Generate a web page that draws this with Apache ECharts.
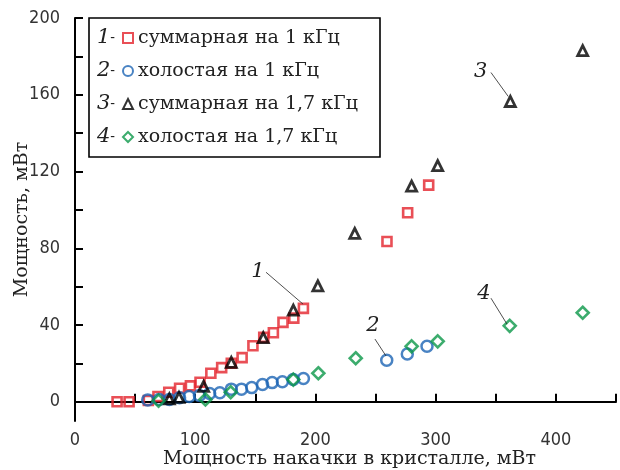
<!DOCTYPE html>
<html>
<head>
<meta charset="utf-8">
<script src="https://cdn.jsdelivr.net/npm/echarts@6/dist/echarts.min.js"></script>
<style>
    html, body {margin: 0; padding: 0; background: #fff;}
    #echartdiv {width: 620px; height: 470px;}
</style>
</head>
<body>
<div id="echartdiv"></div>
<script>
// 1 - суммарная на 1 кГц
var sum1X = [35, 45, 61, 69, 78, 87, 96, 104, 113, 122, 130, 139, 148, 157, 165, 173, 182, 190, 259.5, 276.7, 294.2];
var sum1Y = [0, 0, 0.7, 2.8, 5, 7.1, 8.3, 10.2, 14.9, 17.8, 20.1, 23, 29.2, 33.6, 36, 41.4, 43.6, 48.7, 83.5, 98.5, 112.9];
// 2 - холостая на 1 кГц
var idle1X = [60.5, 70, 78.5, 87, 95, 103.5, 112, 120.5, 130, 138.5, 147, 156, 164, 172.5, 181.5, 190, 259.3, 276.4, 292.8];
var idle1Y = [1, 1.2, 1.2, 2.1, 2.8, 3.3, 4.3, 4.7, 6.6, 6.6, 7.4, 9, 10, 10.5, 11.6, 12.1, 21.7, 24.9, 28.9];
// 3 - суммарная на 1,7 кГц
var sum17X = [78.5, 86.5, 107, 130, 156.6, 181.6, 202, 232.7, 280, 301.7, 362.1, 422.3];
var sum17Y = [1.5, 2.3, 8, 20.6, 33.4, 47.8, 60.4, 87.8, 112.4, 123.1, 156.5, 183];
// 4 - холостая на 1,7 кГц
var idle17X = [69.5, 108.5, 129.5, 181.6, 202.4, 233.5, 280, 301.7, 361.6, 422.3];
var idle17Y = [0.6, 1.2, 5, 11.6, 14.9, 22.7, 28.9, 31.5, 39.6, 46.4];

var seriesNames = ['суммарная на 1 кГц', 'холостая на 1 кГц', 'суммарная на 1,7 кГц', 'холостая на 1,7 кГц'];
var seriesNums = ['1', '2', '3', '4'];

var xTicks = [0, 50, 100, 150, 200, 250, 300, 350, 400, 450];
var xLabels = [0, 100, 200, 300, 400];
var yTicks = [0, 20, 40, 60, 80, 100, 120, 140, 160, 180, 200];
var yLabels = [0, 40, 80, 120, 160, 200];

// подписи кривых: номер, позиция номера, начало и конец выноски (в единицах осей)
var noteText = ['1', '2', '3', '4'];
var notePos = [[152.2, 68], [247.9, 39.5], [337.5, 172], [340.2, 56.6]];
var noteFrom = [[158.9, 67.5], [249.5, 32.7], [346, 171.6], [346, 54]];
var noteTo = [[189.7, 50.9], [258.7, 23.9], [360.4, 159.1], [359.3, 40.5]];

var serifFont = '"DejaVu Serif", "Liberation Serif", serif';
var narrowFont = '"Liberation Sans Narrow", "DejaVu Sans Condensed", sans-serif';

function pairs(xs, ys) {
    var out = [];
    for (var i = 0; i < xs.length; i++) {
        out.push([xs[i], ys[i]]);
    }
    return out;
}

function mkSeries(name, xs, ys, symbol, size, color, bw) {
    return {
        name: name,
        type: 'scatter',
        data: pairs(xs, ys),
        symbol: symbol,
        symbolSize: size,
        itemStyle: {color: 'rgba(255,255,255,0)', borderColor: color, borderWidth: bw},
        emphasis: {disabled: true},
        z: 3
    };
}

var dom = document.getElementById("echartdiv");
var myChart = echarts.init(dom, null, {renderer: 'canvas'});

var option = {
    backgroundColor: '#fff',
    animation: false,
    grid: {left: 75, right: 4, top: 18, bottom: 49, outerBoundsMode: 'none', containLabel: false},
    legend: {
        orient: 'vertical',
        left: 122,
        top: 28,
        padding: 0,
        itemWidth: 10,
        itemHeight: 10,
        itemGap: 13,
        selectedMode: false,
        textStyle: {fontFamily: serifFont, fontSize: 19, color: '#222', lineHeight: 20},
        data: seriesNames
    },
    xAxis: {
        type: 'value',
        min: 0,
        max: 450,
        name: 'Мощность накачки в кристалле, мВт',
        nameLocation: 'middle',
        nameGap: 29,
        nameMoveOverlap: false,
        nameTextStyle: {fontFamily: serifFont, fontSize: 19, color: '#222', padding: [0, 0, 0, 8]},
        axisLine: {lineStyle: {color: '#000', width: 2}},
        axisTick: {inside: true, length: 8, lineStyle: {color: '#000', width: 2}, customValues: xTicks},
        axisLabel: {fontFamily: narrowFont, fontSize: 18, color: '#333', margin: 10, customValues: xLabels},
        splitLine: {show: false}
    },
    yAxis: {
        type: 'value',
        min: -10,
        max: 200,
        name: 'Мощность, мВт',
        nameLocation: 'middle',
        nameGap: 43,
        nameMoveOverlap: false,
        nameTextStyle: {fontFamily: serifFont, fontSize: 19, color: '#222'},
        axisLine: {onZero: false, lineStyle: {color: '#000', width: 2}},
        axisTick: {inside: true, length: 8, lineStyle: {color: '#000', width: 2}, customValues: yTicks},
        axisLabel: {fontFamily: narrowFont, fontSize: 18, color: '#333', margin: 15, customValues: yLabels},
        splitLine: {show: false}
    },
    series: [
        mkSeries(seriesNames[0], sum1X, sum1Y, 'rect', 9, '#e3232c', 2.6),
        mkSeries(seriesNames[1], idle1X, idle1Y, 'circle', 11, '#1c64b4', 2.5),
        mkSeries(seriesNames[2], sum17X, sum17Y, 'triangle', 10, '#000', 2.8),
        mkSeries(seriesNames[3], idle17X, idle17Y, 'diamond', 12, '#0b9748', 2.6)
    ]
};
myChart.setOption(option);

// рамка легенды, номера кривых и выноски
var gr = [];
gr.push({
    type: 'rect',
    shape: {x: 89, y: 18, width: 291, height: 139},
    style: {fill: '#fff', stroke: '#000', lineWidth: 1.6},
    z: 1
});
for (var i = 0; i < seriesNums.length; i++) {
    gr.push({
        type: 'text',
        x: 97,
        y: 38 + i * 33,
        style: {
            text: '{n|' + seriesNums[i] + '}{d|-}',
            verticalAlign: 'middle',
            rich: {
                n: {fontFamily: serifFont, fontStyle: 'italic', fontSize: 21, fill: '#222'},
                d: {fontFamily: serifFont, fontSize: 14, fill: '#222'}
            }
        },
        z: 5
    });
}
for (var k = 0; k < noteText.length; k++) {
    var p = myChart.convertToPixel({gridIndex: 0}, notePos[k]);
    var a = myChart.convertToPixel({gridIndex: 0}, noteFrom[k]);
    var b = myChart.convertToPixel({gridIndex: 0}, noteTo[k]);
    gr.push({
        type: 'text',
        x: p[0],
        y: p[1],
        style: {
            text: noteText[k],
            fontFamily: serifFont,
            fontStyle: 'italic',
            fontSize: 21,
            fill: '#222',
            align: 'center',
            verticalAlign: 'middle'
        },
        z: 5
    });
    gr.push({
        type: 'line',
        shape: {x1: a[0], y1: a[1], x2: b[0], y2: b[1]},
        style: {stroke: '#222', lineWidth: 0.8},
        z: 5
    });
}
myChart.setOption({graphic: gr});
</script>
</body>
</html>
